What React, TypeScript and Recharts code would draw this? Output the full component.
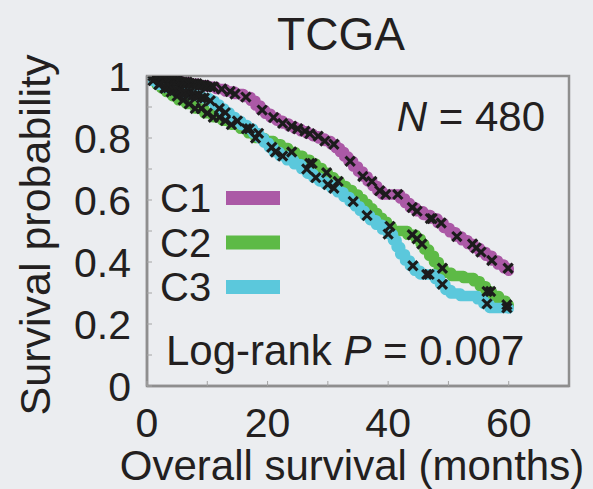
import React from "react";
import {
  ComposedChart,
  Line,
  Scatter,
  XAxis,
  YAxis,
  ReferenceArea,
  Customized
} from "recharts";

// Kaplan-Meier steps: [months, survival]
const c1Steps: [number, number][] = [
  [0, 1], [1.2, 0.995], [2.5, 0.99], [4, 0.985], [5.5, 0.98], [7, 0.975], [8.5, 0.97],
  [10, 0.965], [11.5, 0.958], [13, 0.95], [14.5, 0.942], [16, 0.932], [17.2, 0.92],
  [18, 0.905], [18.8, 0.89], [19.6, 0.878], [20.5, 0.866], [21.5, 0.856], [22.5, 0.847],
  [23.5, 0.838], [24.5, 0.83], [25.5, 0.822], [26.5, 0.814], [27.5, 0.806], [28.5, 0.798],
  [29.5, 0.79], [30.5, 0.78], [31.3, 0.768], [32, 0.755], [32.7, 0.74], [33.4, 0.725],
  [34.2, 0.708], [35, 0.692], [35.8, 0.676], [36.6, 0.66], [37.4, 0.645], [38.2, 0.63],
  [39, 0.618], [42, 0.605], [42.8, 0.59], [43.6, 0.576], [44.6, 0.564], [45.8, 0.552],
  [47, 0.54], [48.2, 0.526], [49.2, 0.51], [50.2, 0.496], [51.2, 0.482], [52.2, 0.47],
  [53.2, 0.458], [54.2, 0.445], [55.2, 0.432], [56.2, 0.42], [57.2, 0.405], [58.2, 0.392],
  [59.2, 0.38], [60, 0.372]
];

const c2Steps: [number, number][] = [
  [0, 1], [0.8, 0.985], [1.6, 0.972], [2.4, 0.96], [3.2, 0.948], [4.2, 0.935], [5.2, 0.922],
  [6.5, 0.91], [8, 0.895], [9.5, 0.88], [11, 0.867], [12.5, 0.856], [14, 0.843], [15.5, 0.83],
  [16.8, 0.815], [18, 0.8], [19.5, 0.79], [21, 0.78], [22.2, 0.768], [23.4, 0.755],
  [24.6, 0.743], [25.8, 0.73], [27, 0.718], [28, 0.703], [29, 0.688], [30, 0.673], [31, 0.66],
  [32, 0.645], [33, 0.632], [34, 0.618], [35, 0.603], [35.8, 0.588], [36.6, 0.573],
  [37.4, 0.558], [38.2, 0.543], [39, 0.53], [39.8, 0.515], [40.6, 0.5], [43.2, 0.488],
  [44.6, 0.475], [45.4, 0.458], [46, 0.44], [46.8, 0.42], [47.6, 0.4], [48.4, 0.38],
  [49.2, 0.365], [50.5, 0.355], [52.5, 0.348], [54.2, 0.338], [55.2, 0.322], [56.2, 0.305],
  [57.2, 0.29], [58.4, 0.275], [59.5, 0.262], [60, 0.258]
];

const c3Steps: [number, number][] = [
  [0, 1], [0.8, 0.985], [1.8, 0.972], [3, 0.962], [4.5, 0.953], [6, 0.945], [7.5, 0.937],
  [9, 0.929], [10.3, 0.92], [11.2, 0.908], [12, 0.895], [12.8, 0.882], [13.7, 0.868],
  [14.6, 0.855], [15.6, 0.842], [16.6, 0.83], [17.6, 0.815], [18.6, 0.8], [19.4, 0.785],
  [20.2, 0.77], [21, 0.755], [22, 0.742], [23.2, 0.728], [24.4, 0.715], [25.6, 0.7],
  [26.6, 0.685], [27.6, 0.672], [28.6, 0.66], [29.6, 0.65], [30.6, 0.638], [31.6, 0.625],
  [32.6, 0.61], [33.6, 0.595], [34.5, 0.58], [35.3, 0.565], [36.1, 0.55], [37, 0.535],
  [38, 0.52], [39, 0.505], [40, 0.49], [40.8, 0.47], [41.4, 0.448], [42, 0.425],
  [42.8, 0.405], [43.6, 0.388], [44.4, 0.372], [45.3, 0.36], [47.8, 0.345], [48.6, 0.328],
  [49.5, 0.31], [50.4, 0.298], [52, 0.29], [54.8, 0.28], [55.8, 0.265], [56.8, 0.252],
  [60, 0.25]
];

// censoring times (months)
const c1Censor = [
  1, 1.5, 1.9, 2.3, 2.7, 3.1, 3.5, 3.9, 4.3, 4.7, 5.1, 5.5, 5.9, 6.3, 6.7, 7.1, 7.5, 7.9,
  8.3, 8.7, 9.1, 9.5, 10, 10.6, 11, 12.4, 13.8, 14.6, 16.4, 19.1, 21, 22.5, 24, 25, 26.2,
  27, 28.4, 29.5, 31, 33.7, 35.8, 37.3, 38.6, 39.6, 41.6, 44, 44.8, 47, 47.3, 48.8, 51.4,
  54, 54.6, 55.4, 57.2, 59.9
];
const c2Censor = [
  2, 3, 4, 5, 6, 7, 8, 9, 10, 11, 12, 13, 14, 16.5, 18, 24, 27, 27.4, 29.8, 31.7, 40.3,
  44, 44.8, 45.6, 49, 56.4, 57, 59.7
];
const c3Censor = [
  1, 2, 3, 3.5, 4, 4.5, 5, 5.5, 6, 6.5, 7, 7.5, 8, 8.5, 9, 9.5, 10.5, 12, 13, 15, 17,
  18.5, 20.7, 21.3, 22.5, 26.5, 28, 30, 31, 34.2, 36.5, 40, 44.1, 46.4, 46.8, 49, 56.4,
  59.7
];

const xTicks = [0, 10, 20, 30, 40, 50, 60];
const xLabelTicks = [0, 20, 40, 60];
const yTicks = [0, 0.1, 0.2, 0.3, 0.4, 0.5, 0.6, 0.7, 0.8, 0.9, 1];
const yLabelTicks = [0, 0.2, 0.4, 0.6, 0.8, 1];

const legendItems = [
  { name: "C1", color: "#ab59a6" },
  { name: "C2", color: "#5dba46" },
  { name: "C3", color: "#5bc8dc" }
];

const W = 593;
const H = 489;
const FONT = "'Liberation Sans', Arial, Helvetica, sans-serif";
const INK = "#231f20";
const FRAME = "#8e8e8e";
const BG = "#ebedf0";

const toPoints = (steps: [number, number][]) => steps.map(([t, s]) => ({ t, s }));

// survival value of a step curve at time t (censor marks sit on the curve)
const survAt = (steps: [number, number][], t: number) => {
  let s = 1;
  for (const [tt, ss] of steps) {
    if (tt <= t) s = ss;
    else break;
  }
  return s;
};
const censorPoints = (steps: [number, number][], times: number[]) =>
  times.map((t) => ({ t, s: survAt(steps, t) }));

const CensorMark = (props: any) => {
  const { cx, cy } = props;
  const r = 3.5;
  return (
    <g stroke="#1c1c1c" strokeWidth={3.1} strokeLinecap="square">
      <line x1={cx - r} y1={cy - r} x2={cx + r} y2={cy + r} />
      <line x1={cx - r} y1={cy + r} x2={cx + r} y2={cy - r} />
    </g>
  );
};

const YTick = (props: any) => {
  const { x, y, payload } = props;
  const v = payload.value;
  const labelled = yLabelTicks.includes(v);
  return (
    <g>
      <line x1={x} x2={x + 5} y1={y} y2={y} stroke="#a4a4a4" strokeWidth={1} />
      {labelled && (
        <text x={x - 16} y={y} dy="0.36em" textAnchor="end" fontSize={41} fill={INK} fontFamily={FONT}>
          {String(v)}
        </text>
      )}
    </g>
  );
};

const XTick = (props: any) => {
  const { x, y, payload } = props;
  const v = payload.value;
  const labelled = xLabelTicks.includes(v);
  return (
    <g>
      <line x1={x} x2={x} y1={y} y2={y - 5} stroke="#a4a4a4" strokeWidth={1} />
      {labelled && (
        <text x={x} y={y + 51} textAnchor="middle" fontSize={41} fill={INK} fontFamily={FONT}>
          {String(v)}
        </text>
      )}
    </g>
  );
};

const Annotations = () => (
  <g fontFamily={FONT} fill={INK}>
    <text x={341} y={50} textAnchor="middle" fontSize={46}>TCGA</text>
    <text x={50} y={235} transform="rotate(-90 50 235)" textAnchor="middle" fontSize={43}>
      Survival probability
    </text>
    <text x={352} y={480} textAnchor="middle" fontSize={42}>Overall survival (months)</text>
    <text x={545} y={131} textAnchor="end" fontSize={42}>
      <tspan fontStyle="italic">N</tspan> = 480
    </text>
    <text x={166} y={365} fontSize={42}>
      Log-rank <tspan fontStyle="italic">P</tspan> = 0.007
    </text>
    {legendItems.map((it, i) => {
      const cy = 198 + i * 44.5;
      return (
        <g key={it.name}>
          <text x={160} y={cy + 14} fontSize={40}>{it.name}</text>
          <rect x={226} y={cy - 7} width={54} height={14} fill={it.color} />
        </g>
      );
    })}
  </g>
);

export default function App() {
  return (
    <div style={{ position: "absolute", left: 0, top: 0, width: W, height: H, background: BG }}>
      <ComposedChart width={W} height={H} margin={{ top: 76, right: 24, bottom: 102, left: 146 }}>
        <XAxis
          type="number"
          dataKey="t"
          domain={[0, 70]}
          ticks={xTicks}
          interval={0}
          height={1}
          tickSize={0}
          tickMargin={0}
          tickLine={false}
          axisLine={{ stroke: FRAME, strokeWidth: 2.5 }}
          tick={<XTick />}
          allowDataOverflow
        />
        <YAxis
          type="number"
          dataKey="s"
          domain={[0, 1]}
          ticks={yTicks}
          interval={0}
          width={1}
          tickSize={0}
          tickMargin={0}
          tickLine={false}
          axisLine={{ stroke: FRAME, strokeWidth: 2.5 }}
          tick={<YTick />}
          allowDataOverflow
        />
        <ReferenceArea x1={0} x2={70} y1={0} y2={1} fill="none" stroke={FRAME} strokeWidth={2.5} />
        <Line data={toPoints(c1Steps)} dataKey="s" type="stepAfter" stroke={legendItems[0].color}
          strokeWidth={10.5} strokeLinejoin="round" strokeLinecap="round" dot={false} isAnimationActive={false} />
        <Line data={toPoints(c2Steps)} dataKey="s" type="stepAfter" stroke={legendItems[1].color}
          strokeWidth={10.5} strokeLinejoin="round" strokeLinecap="round" dot={false} isAnimationActive={false} />
        <Line data={toPoints(c3Steps)} dataKey="s" type="stepAfter" stroke={legendItems[2].color}
          strokeWidth={10.5} strokeLinejoin="round" strokeLinecap="round" dot={false} isAnimationActive={false} />
        <Scatter data={censorPoints(c1Steps, c1Censor)} dataKey="s" shape={CensorMark} isAnimationActive={false} />
        <Scatter data={censorPoints(c2Steps, c2Censor)} dataKey="s" shape={CensorMark} isAnimationActive={false} />
        <Scatter data={censorPoints(c3Steps, c3Censor)} dataKey="s" shape={CensorMark} isAnimationActive={false} />
        <Customized component={Annotations} />
      </ComposedChart>
    </div>
  );
}
